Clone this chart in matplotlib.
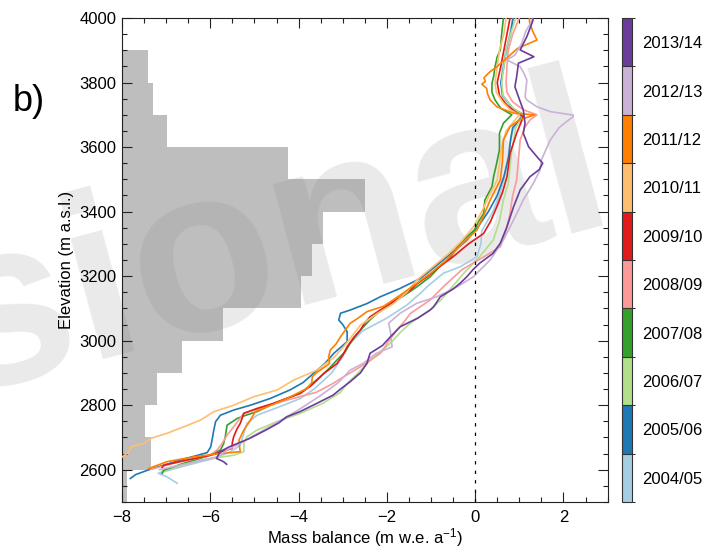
import numpy as np
import matplotlib
matplotlib.use('Agg')
import matplotlib as mpl
import matplotlib.pyplot as plt
from matplotlib.colors import ListedColormap, BoundaryNorm
from matplotlib.ticker import MultipleLocator

plt.rcParams['font.family'] = ['Liberation Sans', 'DejaVu Sans']
plt.rcParams['mathtext.default'] = 'regular'

years = ['2004/05', '2005/06', '2006/07', '2007/08', '2008/09',
         '2009/10', '2010/11', '2011/12', '2012/13', '2013/14']
colors = ['#a6cee3', '#1f78b4', '#b2df8a', '#33a02c', '#fb9a99',
          '#e31a1c', '#fdbf6f', '#ff7f00', '#cab2d6', '#6a3d9a']

# glacier hypsometry (100 m bands), drawn from the left edge of the axis
band_bottom = [2500, 2600, 2700, 2800, 2900, 3000, 3100,
               3200, 3300, 3400, 3500, 3600, 3700, 3800]
band_edge = [-7.88, -7.34, -7.47, -7.21, -6.63, -5.71, -3.94,
             -3.69, -3.45, -2.49, -4.25, -6.98, -7.29, -7.41]

# mass balance profiles (elevation in m a.s.l., balance in m w.e./a)
elev_0405 = [2558, 2578, 2589, 2594, 2614, 2635, 2656, 2676, 2713, 2744, 2769, 2800,
             2821, 2850, 2900, 2950, 2990, 3030, 3070, 3110, 3147, 3167, 3209, 3229,
             3260, 3300, 3340, 3400, 3450, 3500, 3550, 3600, 3650, 3700, 3720, 3760,
             3800, 3850, 3900, 3950, 4000]
mb_0405 = [-6.75, -6.98, -7.18, -7.05, -6.52, -5.92, -5.54, -5.32, -5.24, -5.17, -4.94, -4.34,
           -3.96, -3.65, -3.25, -3.0, -2.85, -2.55, -2.0, -1.55, -1.24, -1.09, -0.72, -0.34,
           0.04, 0.13, 0.15, 0.4, 0.55, 0.65, 0.72, 0.78, 0.85, 1.05, 0.85, 0.62,
           0.6, 0.62, 0.72, 0.78, 0.85]

elev_0506 = [2573, 2585, 2602, 2633, 2653, 2671, 2692, 2723, 2749, 2769, 2785, 2800,
             2821, 2847, 2870, 2899, 2930, 2961, 2997, 3028, 3050, 3064, 3085, 3095,
             3115, 3136, 3162, 3193, 3230, 3270, 3310, 3350, 3400, 3450, 3508, 3570,
             3622, 3660, 3700, 3720, 3760, 3800, 3850, 3900, 3950, 4000]
mb_0506 = [-7.81, -7.69, -7.35, -6.6, -6.07, -5.99, -5.96, -5.92, -5.88, -5.77, -5.47, -5.09,
           -4.64, -4.2, -3.9, -3.66, -3.4, -3.2, -2.9, -2.9, -3.0, -3.09, -3.05, -2.83,
           -2.45, -2.15, -1.7, -1.24, -0.9, -0.55, -0.2, 0.05, 0.3, 0.5, 0.65, 0.76,
           0.8, 0.85, 1.1, 0.85, 0.62, 0.58, 0.65, 0.7, 0.8, 0.86]

elev_0607 = [2595, 2615, 2630, 2645, 2656, 2682, 2702, 2723, 2749, 2775, 2806, 2840,
             2867, 2900, 2929, 2960, 2992, 3025, 3054, 3095, 3130, 3170, 3210, 3260,
             3312, 3370, 3436, 3488, 3539, 3591, 3622, 3660, 3700, 3720, 3760, 3800,
             3850, 3900, 3950, 4000]
mb_0607 = [-7.1, -6.6, -6.22, -5.47, -5.24, -5.24, -5.17, -4.94, -4.49, -3.96, -3.45, -3.05,
           -2.9, -2.65, -2.45, -2.2, -1.92, -1.7, -1.47, -1.02, -0.75, -0.5, -0.25, 0.1,
           0.41, 0.55, 0.64, 0.75, 0.79, 0.83, 0.87, 0.92, 1.1, 0.85, 0.63, 0.6,
           0.65, 0.7, 0.8, 0.92]

elev_0708 = [2589, 2599, 2620, 2642, 2661, 2680, 2702, 2738, 2759, 2770, 2780, 2806,
             2837, 2860, 2888, 2915, 2940, 2965, 2992, 3020, 3043, 3065, 3084, 3105,
             3126, 3150, 3167, 3198, 3230, 3260, 3291, 3320, 3343, 3370, 3394, 3436,
             3477, 3510, 3539, 3591, 3643, 3674, 3700, 3720, 3746, 3770, 3797, 3820,
             3849, 3880, 3901, 3950, 4000]
mb_0708 = [-7.09, -7.05, -6.6, -6.07, -5.77, -5.7, -5.66, -5.62, -5.39, -5.17, -4.94, -4.56,
           -3.96, -3.75, -3.51, -3.3, -3.13, -2.95, -2.83, -2.68, -2.53, -2.38, -2.22, -2.0,
           -1.77, -1.5, -1.32, -1.02, -0.8, -0.55, -0.4, -0.2, -0.02, 0.08, 0.19, 0.22,
           0.38, 0.42, 0.47, 0.55, 0.55, 0.64, 0.83, 0.58, 0.45, 0.38, 0.38, 0.42,
           0.45, 0.5, 0.57, 0.6, 0.64]

elev_0809 = [2601, 2620, 2645, 2665, 2682, 2707, 2733, 2755, 2775, 2790, 2816, 2840,
             2865, 2888, 2919, 2960, 3000, 3033, 3060, 3084, 3126, 3170, 3220, 3260,
             3291, 3340, 3394, 3450, 3498, 3560, 3622, 3660, 3684, 3700, 3715, 3740,
             3770, 3800, 3850, 3900, 3950, 4000]
mb_0809 = [-7.35, -6.83, -5.99, -5.82, -5.73, -5.62, -5.47, -5.35, -5.24, -4.87, -4.26, -3.6,
           -3.25, -2.98, -2.6, -2.15, -1.95, -1.77, -1.6, -1.47, -1.02, -0.7, -0.3, 0.2,
           0.57, 0.7, 0.79, 0.85, 0.94, 0.98, 1.02, 1.12, 1.24, 1.4, 1.1, 0.85,
           0.72, 0.7, 0.72, 0.75, 0.85, 1.0]

elev_0910 = [2607, 2614, 2628, 2645, 2666, 2685, 2702, 2725, 2744, 2775, 2790, 2806,
             2837, 2860, 2878, 2898, 2929, 2955, 2981, 3010, 3033, 3055, 3074, 3095,
             3115, 3135, 3157, 3178, 3198, 3230, 3260, 3300, 3332, 3370, 3415, 3460,
             3508, 3580, 3643, 3694, 3710, 3730, 3760, 3800, 3850, 3900, 3950, 4000]
mb_0910 = [-7.09, -7.05, -6.6, -5.99, -5.51, -5.5, -5.47, -5.4, -5.32, -5.24, -4.94, -4.56,
           -3.96, -3.72, -3.58, -3.43, -3.13, -3.0, -2.9, -2.75, -2.6, -2.5, -2.38, -2.15,
           -1.92, -1.7, -1.47, -1.3, -1.09, -0.8, -0.5, -0.15, 0.19, 0.35, 0.49, 0.62,
           0.72, 0.79, 0.94, 1.09, 0.9, 0.72, 0.55, 0.5, 0.58, 0.65, 0.72, 0.79]

elev_1011 = [2636, 2640, 2656, 2671, 2682, 2697, 2713, 2733, 2754, 2780, 2800, 2826,
             2847, 2878, 2909, 2948, 2981, 3007, 3048, 3084, 3115, 3150, 3188, 3230,
             3270, 3310, 3353, 3400, 3450, 3498, 3550, 3600, 3650, 3700, 3715, 3740,
             3770, 3800, 3850, 3900, 3950, 4000]
mb_1011 = [-8.05, -7.99, -7.84, -7.8, -7.5, -7.35, -6.98, -6.6, -6.22, -5.92, -5.47, -5.02,
           -4.49, -4.11, -3.58, -3.2, -2.98, -2.83, -2.6, -2.22, -1.85, -1.55, -1.32, -0.95,
           -0.6, -0.3, -0.04, 0.15, 0.32, 0.5, 0.55, 0.6, 0.7, 1.0, 0.8, 0.62,
           0.48, 0.45, 0.5, 0.55, 0.65, 0.7]

elev_1112 = [2604, 2625, 2640, 2649, 2656, 2675, 2692, 2723, 2754, 2780, 2795, 2821,
             2852, 2870, 2888, 2900, 2929, 2950, 2971, 2990, 3012, 3054, 3070, 3090,
             3107, 3141, 3178, 3210, 3250, 3300, 3343, 3390, 3436, 3498, 3560, 3622,
             3663, 3684, 3700, 3705, 3725, 3746, 3765, 3782, 3795, 3803, 3815, 3834,
             3850, 3880, 3905, 3932, 3960, 3989, 4000]
mb_1112 = [-7.39, -6.98, -6.37, -5.84, -5.32, -5.34, -5.35, -5.24, -5.09, -4.98, -4.71, -4.26,
           -3.81, -3.7, -3.69, -3.6, -3.3, -3.32, -3.28, -3.15, -3.05, -2.83, -2.65, -2.45,
           -2.07, -1.7, -1.32, -1.0, -0.65, -0.3, 0.04, 0.2, 0.34, 0.57, 0.62, 0.64,
           0.79, 1.0, 1.35, 0.87, 0.49, 0.34, 0.28, 0.26, 0.15, 0.23, 0.2, 0.34,
           0.5, 0.75, 0.95, 1.4, 1.3, 1.23, 1.23]

elev_1213 = [2600, 2620, 2640, 2661, 2682, 2707, 2749, 2790, 2830, 2870, 2909, 2930,
             2960, 2981, 3000, 3030, 3054, 3085, 3116, 3136, 3167, 3198, 3219, 3250,
             3312, 3374, 3436, 3488, 3529, 3560, 3591, 3622, 3660, 3679, 3694, 3699,
             3710, 3725, 3746, 3756, 3780, 3808, 3830, 3849, 3870, 3885, 3920, 3960,
             3989, 4000]
mb_1213 = [-7.15, -6.5, -5.84, -5.62, -5.32, -5.0, -4.45, -3.95, -3.5, -3.1, -2.83, -2.53,
           -2.25, -1.88, -1.9, -1.92, -1.96, -1.7, -1.32, -0.87, -0.41, -0.04, 0.11, 0.34,
           0.64, 0.87, 1.09, 1.32, 1.47, 1.5, 1.6, 1.7, 1.9, 2.07, 2.22, 2.22,
           1.7, 1.4, 1.17, 1.13, 1.15, 1.17, 1.1, 1.02, 0.72, 0.9, 1.05, 1.15,
           1.28, 1.3]

elev_1314 = [2617, 2625, 2635, 2645, 2656, 2671, 2697, 2723, 2745, 2764, 2780, 2800,
             2831, 2850, 2873, 2900, 2930, 2961, 2985, 3012, 3043, 3070, 3095, 3105,
             3136, 3160, 3178, 3198, 3220, 3240, 3270, 3302, 3353, 3415, 3467, 3508,
             3530, 3550, 3570, 3601, 3643, 3674, 3715, 3756, 3787, 3818, 3860, 3880,
             3901, 3942, 3989, 4000]
mb_1314 = [-5.63, -5.7, -5.86, -5.82, -5.78, -5.57, -5.11, -4.74, -4.45, -4.27, -3.97, -3.67,
           -3.22, -3.05, -2.83, -2.6, -2.45, -2.38, -2.1, -1.92, -1.7, -1.3, -1.02, -0.94,
           -0.79, -0.5, -0.34, -0.19, -0.05, 0.1, 0.4, 0.57, 0.72, 0.87, 1.02, 1.24,
           1.45, 1.53, 1.4, 1.21, 1.09, 1.13, 1.09, 0.98, 0.9, 0.94, 0.98, 1.33,
           1.02, 1.17, 1.3, 1.32]

profiles = [(elev_0405, mb_0405), (elev_0506, mb_0506), (elev_0607, mb_0607),
            (elev_0708, mb_0708), (elev_0809, mb_0809), (elev_0910, mb_0910),
            (elev_1011, mb_1011), (elev_1112, mb_1112), (elev_1213, mb_1213),
            (elev_1314, mb_1314)]

fig = plt.figure(figsize=(7.08, 5.49), dpi=100)
ax = fig.add_axes([0.1723, 0.0856, 0.6859, 0.8816])

# hypsometry as grey bars
ax.barh(band_bottom, np.array(band_edge) + 8, height=100, left=-8, align='edge',
        color='#bebebe', edgecolor='none', zorder=1)

# watermark between the bars and the profiles
ax.text(0.874, 0.605, 'Provisional', transform=fig.transFigure, fontsize=170,
        fontweight='bold', color='#7f7f7f', alpha=0.16, rotation=15,
        rotation_mode='anchor', ha='right', va='baseline', clip_on=False, zorder=1.5)

for (el, mb), c in zip(profiles, colors):
    ax.plot(mb, el, color=c, lw=1.2, zorder=3)

ax.axvline(0, color='black', lw=0.9, dashes=(2.7, 4.9), zorder=3)

ax.set_xlim(-8, 3)
ax.set_ylim(2500, 4000)
ax.xaxis.set_major_locator(MultipleLocator(2))
ax.xaxis.set_minor_locator(MultipleLocator(0.5))
ax.yaxis.set_major_locator(MultipleLocator(200))
ax.yaxis.set_minor_locator(MultipleLocator(50))
ax.tick_params(which='both', direction='in', top=True, right=True, width=0.8,
               color='#222222', labelsize=12)
ax.tick_params(which='major', length=7)
ax.tick_params(which='minor', length=3.3)
ax.tick_params(axis='x', pad=6)
ax.tick_params(axis='y', pad=4)
for s in ax.spines.values():
    s.set_linewidth(0.8)
    s.set_color('#222222')

ax.set_xlabel('Mass balance (m w.e. a$^{-1}$)', fontsize=12, labelpad=0.5)
ax.set_ylabel('Elevation (m a.s.l.)', fontsize=12, labelpad=4)

fig.text(0.018, 1 - 101 / 549, 'b)', fontsize=26, va='center', ha='left')

# discrete colour key for the years
cax = fig.add_axes([0.8785, 0.0856, 0.0141, 0.8816])
cmap = ListedColormap(colors)
norm = BoundaryNorm(np.arange(11), 10)
cb = mpl.colorbar.ColorbarBase(cax, cmap=cmap, norm=norm, ticks=np.arange(10) + 0.5,
                               drawedges=True)
cb.set_ticklabels(years)
cb.outline.set_linewidth(0.8)
cb.outline.set_edgecolor('#333333')
cb.dividers.set_linewidth(0.8)
cb.dividers.set_color('#333333')
cax.tick_params(length=0, labelsize=12, pad=7)

fig.savefig('out.png', dpi=100)
